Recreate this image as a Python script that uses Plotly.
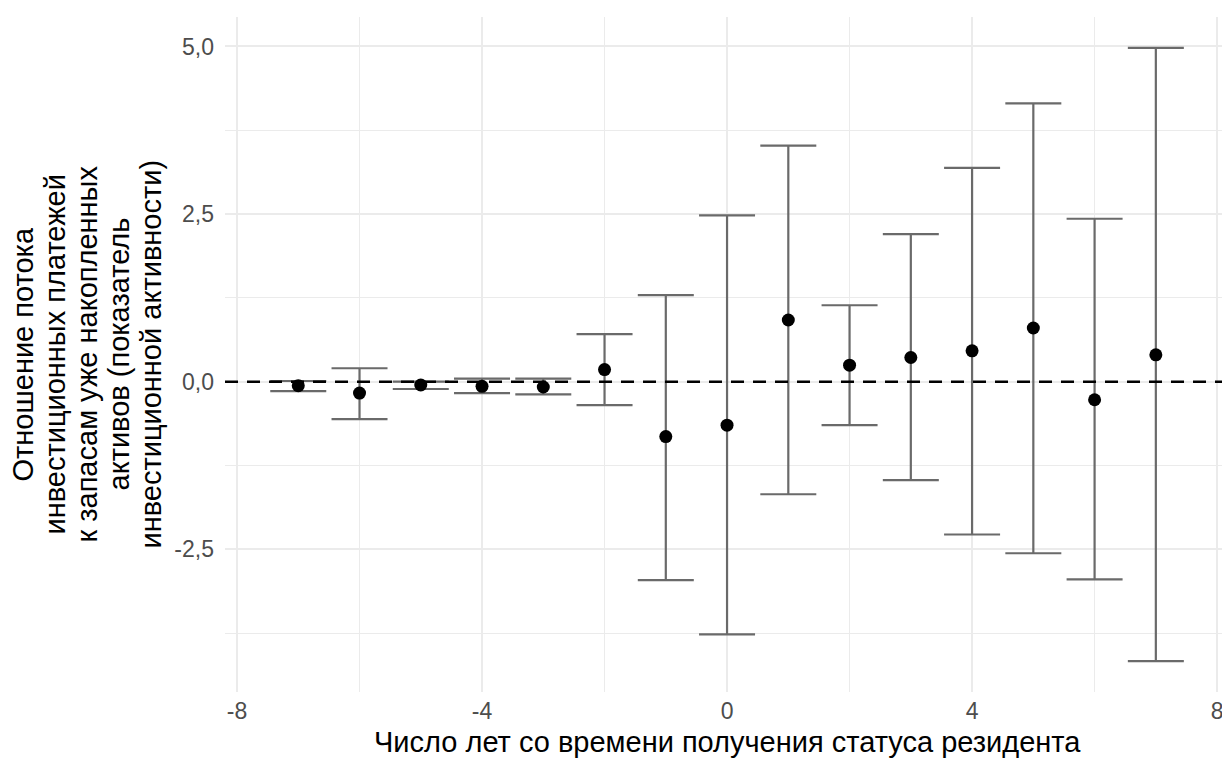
import plotly.graph_objects as go

years = [-7, -6, -5, -4, -3, -2, -1, 0, 1, 2, 3, 4, 5, 6, 7]
estimate = [-0.06, -0.17, -0.05, -0.07, -0.08, 0.18, -0.82, -0.65, 0.92, 0.245, 0.36, 0.46, 0.80, -0.27, 0.40]
ci_upper = [0.01, 0.20, 0.0, 0.045, 0.045, 0.71, 1.29, 2.48, 3.52, 1.14, 2.20, 3.19, 4.15, 2.43, 4.98]
ci_lower = [-0.14, -0.56, -0.11, -0.17, -0.19, -0.35, -2.96, -3.77, -1.68, -0.65, -1.47, -2.28, -2.56, -2.95, -4.17]

x_ticks = [-8, -4, 0, 4, 8]
x_tick_labels = ["-8", "-4", "0", "4", "8"]
x_minor = [-6, -2, 2, 6]
y_ticks = [-2.5, 0.0, 2.5, 5.0]
y_tick_labels = ["-2,5", "0,0", "2,5", "5,0"]
y_minor = [-3.75, -1.25, 1.25, 3.75]

x_title = "Число лет со времени получения статуса резидента"
y_title_lines = ["Отношение потока", "инвестиционных платежей", "к запасам уже накопленных",
                 "активов (показатель", "инвестиционной активности)"]

err_plus = [u - e for u, e in zip(ci_upper, estimate)]
err_minus = [e - l for e, l in zip(estimate, ci_lower)]

FONT = "Liberation Sans, Arial, sans-serif"
GRID = "#EBEBEB"
W, H = 1222, 758
ML, MR, MT, MB = 225, 0, 17, 66
PW, PH = W - ML - MR, H - MT - MB

fig = go.Figure()
fig.add_trace(go.Scatter(
    x=years, y=estimate, mode="markers",
    marker=dict(color="black", size=13),
    error_y=dict(type="data", symmetric=False, array=err_plus, arrayminus=err_minus,
                 color="#6a6a6a", thickness=2.2, width=28),
    showlegend=False, hoverinfo="skip",
))

fig.add_hline(y=0, line=dict(color="black", width=2.5, dash="13px,9px"), layer="above")

# y-axis title as stacked rotated lines (tight line spacing like the reference)
line_centers_px = [22, 54, 86, 118, 150]
for txt, cx in zip(y_title_lines, line_centers_px):
    fig.add_annotation(
        text=txt, textangle=-90, showarrow=False,
        xref="paper", yref="paper", x=(cx - ML) / PW, y=0.5,
        xanchor="center", yanchor="middle",
        font=dict(family=FONT, size=29, color="black"),
    )

# x-axis title
fig.add_annotation(
    text=x_title, showarrow=False, xref="paper", yref="paper",
    x=(727 - ML) / PW, y=-(760 - (MT + PH)) / PH, xanchor="center", yanchor="bottom",
    font=dict(family=FONT, size=29, color="black"),
)

fig.update_layout(
    width=W, height=H,
    margin=dict(l=ML, r=MR, t=MT, b=MB, autoexpand=False),
    paper_bgcolor="white", plot_bgcolor="white",
    font=dict(family=FONT, color="#4D4D4D", size=23),
    showlegend=False,
)
fig.update_xaxes(
    range=[-8.196, 8.08], tickvals=x_ticks, ticktext=x_tick_labels,
    showgrid=True, gridcolor=GRID, gridwidth=2, zeroline=False, showline=False,
    ticks="", tickfont=dict(size=23, color="#4D4D4D"), automargin=False,
    ticklabelstandoff=3, ticklabeloverflow="allow",
    minor=dict(tickvals=x_minor, showgrid=True, gridcolor=GRID, gridwidth=1),
)
fig.update_yaxes(
    range=[-4.63, 5.44], tickvals=y_ticks, ticktext=y_tick_labels,
    showgrid=True, gridcolor=GRID, gridwidth=2, zeroline=False, showline=False,
    ticks="", tickfont=dict(size=23, color="#4D4D4D"), automargin=False,
    ticklabelstandoff=10,
    minor=dict(tickvals=y_minor, showgrid=True, gridcolor=GRID, gridwidth=1),
)

fig.write_html("out.html", config={"displayModeBar": False},
               post_script="document.body.style.margin='0';")
